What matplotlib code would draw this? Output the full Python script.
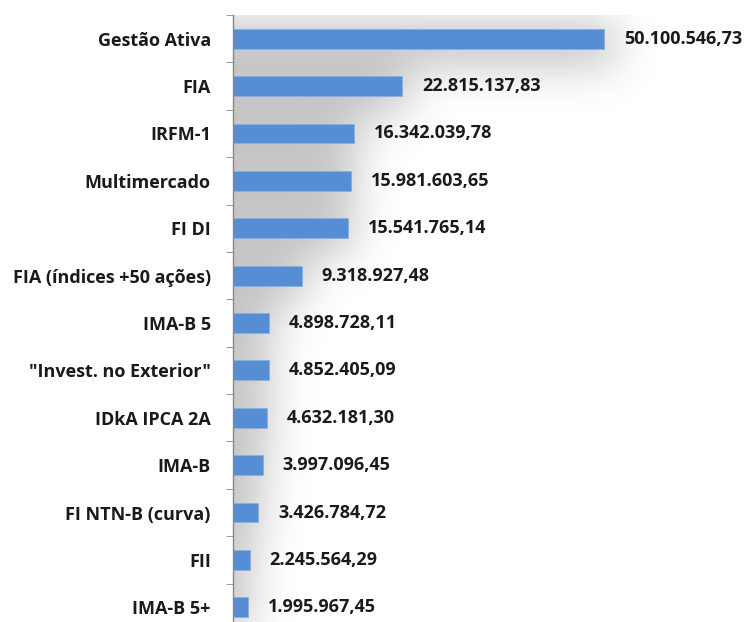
import matplotlib.pyplot as plt
import numpy as np

categories = ["Gestão Ativa", "FIA", "IRFM-1", "Multimercado", "FI DI",
              "FIA (índices +50 ações)", "IMA-B 5", "\"Invest. no Exterior\"",
              "IDkA IPCA 2A", "IMA-B", "FI NTN-B (curva)", "FII", "IMA-B 5+"]
values = [50100546.73, 22815137.83, 16342039.78, 15981603.65, 15541765.14,
          9318927.48, 4898728.11, 4852405.09, 4632181.30, 3997096.45,
          3426784.72, 2245564.29, 1995967.45]
value_labels = ["50.100.546,73", "22.815.137,83", "16.342.039,78", "15.981.603,65",
                "15.541.765,14", "9.318.927,48", "4.898.728,11", "4.852.405,09",
                "4.632.181,30", "3.997.096,45", "3.426.784,72", "2.245.564,29",
                "1.995.967,45"]

plt.rcParams['font.family'] = ['Open Sans', 'DejaVu Sans']

W_PX, H_PX = 509, 616
fig = plt.figure(figsize=(7.5, 6.22), dpi=100)
ax = fig.add_axes([233 / 750, -9 / 622, W_PX / 750, H_PX / 622])

n = len(categories)
y = np.arange(n)
xmax = values[0] * W_PX / 371
bar_h = 0.42


def gauss_blur(img, sigma):
    r = int(3 * sigma)
    k = np.exp(-0.5 * (np.arange(-r, r + 1) / sigma) ** 2)
    k /= k.sum()
    out = np.apply_along_axis(lambda m: np.convolve(m, k, mode="same"), 1, img)
    out = np.apply_along_axis(lambda m: np.convolve(m, k, mode="same"), 0, out)
    return out


# soft shadow behind the bars (blurred mask of the bars)
pad = 80
xs = np.linspace(0, xmax, W_PX)
ys = np.linspace(-0.5, n - 0.5, H_PX)
mask = np.zeros((H_PX + 2 * pad, W_PX + 2 * pad))
for i, v in enumerate(values):
    rows = (np.abs(ys - (i + 0.1)) < 0.45)
    cols = xs <= v * 1.03
    sub = np.outer(rows, cols).astype(float)
    mask[pad:pad + H_PX, pad:pad + W_PX] = np.maximum(
        mask[pad:pad + H_PX, pad:pad + W_PX], sub)
mask[pad:pad + H_PX, :pad] = mask[pad:pad + H_PX, pad:pad + 1]
blur = gauss_blur(mask, 22)[pad:pad + H_PX, pad:pad + W_PX]
rgba = np.zeros((H_PX, W_PX, 4))
rgba[..., :3] = 0.3
rgba[..., 3] = np.clip(blur * 0.36, 0, 1)
ax.imshow(rgba, extent=(0, xmax, n - 0.5, -0.5), aspect="auto",
          interpolation="bilinear", zorder=1)

ax.barh(y, values, height=bar_h, color="#558ED5", edgecolor="#8ab0e0",
        linewidth=0.6, zorder=3)

for i, (v, lab) in enumerate(zip(values, value_labels)):
    ax.text(v + xmax * 0.039, i, lab, va="center", ha="left",
            fontsize=13, fontweight="bold", color="#1a1a1a", zorder=4)

ax.set_xlim(0, xmax)
ax.set_ylim(n - 0.5, -0.5)
ax.set_yticks(y)
ax.set_yticklabels(categories, fontsize=13, fontweight="bold", color="#1a1a1a")
ax.set_yticks(np.arange(-0.5, n, 1), minor=True)
ax.tick_params(axis="y", which="major", length=0, pad=16)
ax.tick_params(axis="y", which="minor", length=5, color="#888888", direction="out")
ax.set_xticks([])
for s in ["top", "right", "bottom"]:
    ax.spines[s].set_visible(False)
ax.spines["left"].set_color("#888888")
ax.spines["left"].set_linewidth(1.0)
ax.spines["left"].set_zorder(5)
ax.patch.set_alpha(0)

fig.savefig("out.png", dpi=100)
